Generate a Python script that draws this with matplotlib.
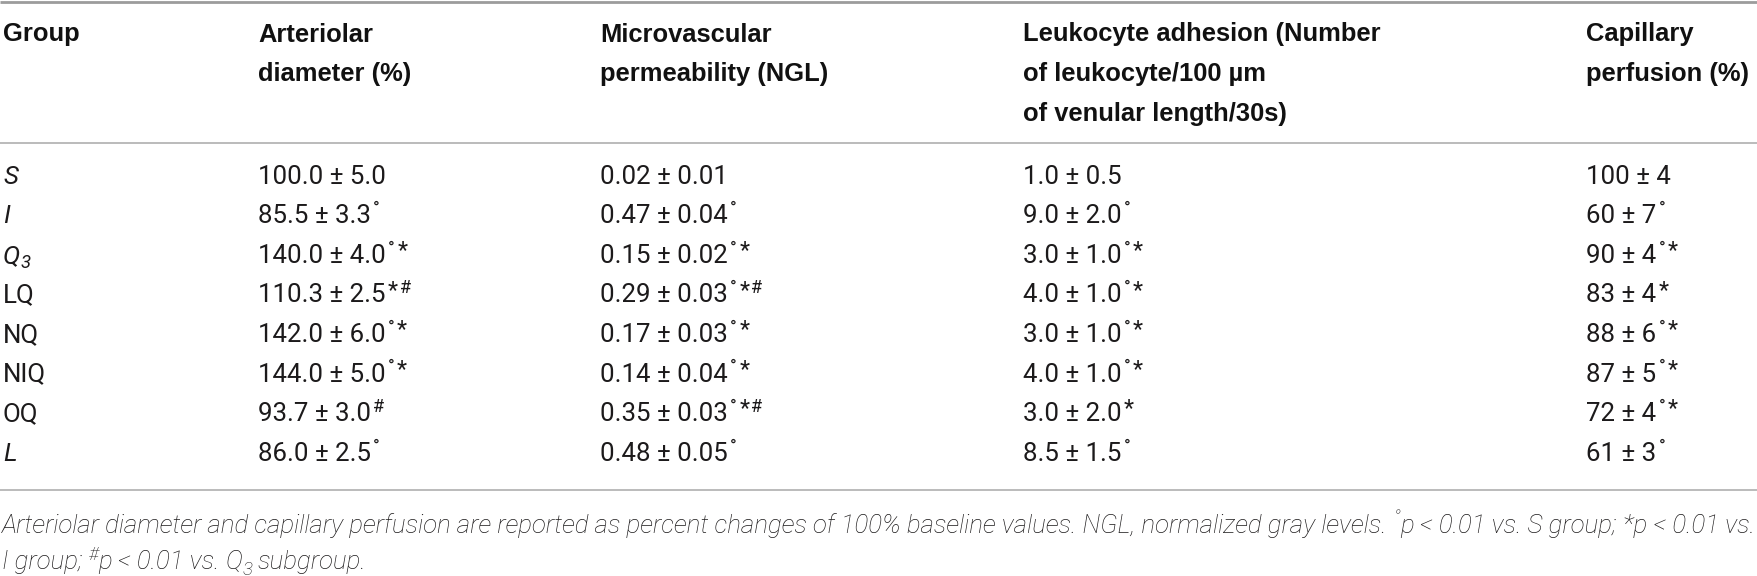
import matplotlib
matplotlib.use("Agg")
import matplotlib.pyplot as plt

# table content
groups = ["S", "I", "Q", "LQ", "NQ", "NIQ", "OQ", "L"]
group_italic = [True, True, True, False, False, False, False, True]
group_sub = ["", "", "3", "", "", "", "", ""]

art_mean = [100.0, 85.5, 140.0, 110.3, 142.0, 144.0, 93.7, 86.0]
art_sd = [5.0, 3.3, 4.0, 2.5, 6.0, 5.0, 3.0, 2.5]
art_mark = ["", "°", "°*", "*#", "°*", "°*", "#", "°"]

perm_mean = [0.02, 0.47, 0.15, 0.29, 0.17, 0.14, 0.35, 0.48]
perm_sd = [0.01, 0.04, 0.02, 0.03, 0.03, 0.04, 0.03, 0.05]
perm_mark = ["", "°", "°*", "°*#", "°*", "°*", "°*#", "°"]

leuk_mean = [1.0, 9.0, 3.0, 4.0, 3.0, 4.0, 3.0, 8.5]
leuk_sd = [0.5, 2.0, 1.0, 1.0, 1.0, 1.0, 2.0, 1.5]
leuk_mark = ["", "°", "°*", "°*", "°*", "°*", "*", "°"]

cap_mean = [100, 60, 90, 83, 88, 87, 72, 61]
cap_sd = [4, 7, 4, 4, 6, 5, 4, 3]
cap_mark = ["", "°", "°*", "*", "°*", "°*", "°*", "°"]

headers = [
    ["Group"],
    ["Arteriolar", "diameter (%)"],
    ["Microvascular", "permeability (NGL)"],
    ["Leukocyte adhesion (Number", "of leukocyte/100 µm", "of venular length/30s)"],
    ["Capillary", "perfusion (%)"],
]

W, H = 1758, 576
fig = plt.figure(figsize=(W / 100, H / 100), dpi=100)
ax = fig.add_axes([0, 0, 1, 1])
ax.set_xlim(0, W)
ax.set_ylim(H, 0)
ax.axis("off")
renderer = fig.canvas.get_renderer()

INK = "#1c1a1b"
BODY = "Roboto"
HEAD = "Liberation Sans"
col_x = [3, 258, 600, 1023, 1586]


def runs(x, y, parts, size, family=BODY, weight="normal", style="normal"):
    # draw text pieces one after another; returns the artists and end x
    arts = []
    for txt, kind in parts:
        if kind == "gap":
            x += txt * size / 16
            continue
        s, dy = size, 0
        if kind == "sup":
            s, dy = size * 0.7, -size * 0.5
        elif kind == "star":
            s, dy = size * 0.9, -size * 0.3
        elif kind == "sub":
            s, dy = size * 0.72, size * 0.3
        t = ax.text(x, y + dy, txt, fontsize=s, fontfamily=family, fontweight=weight,
                    fontstyle=style, color=INK, ha="left", va="baseline")
        x += t.get_window_extent(renderer).width
        arts.append(t)
    return arts, x


def fit(parts, target, **kw):
    # font size at which a run of text is target pixels wide
    arts, end = runs(0, 0, parts, 10, **kw)
    for a in arts:
        a.remove()
    return 10 * target / end


def mark_parts(mark):
    out = []
    for ch in mark:
        out += [(2, "gap"), (ch, "star" if ch == "*" else "sup")]
    return out


# rules
ax.plot([0, W], [1.5, 1.5], color="#9c9c9c", lw=2.0, solid_capstyle="butt")
ax.plot([0, W], [143, 143], color="#a8a8a8", lw=1.1, solid_capstyle="butt")
ax.plot([0, W], [490, 490], color="#a8a8a8", lw=1.1, solid_capstyle="butt")

# header
HS = fit([("Arteriolar", "n")], 115, family=HEAD, weight="bold")
head_base = [41.5, 81.5, 121.5]
for cx, lines in zip(col_x, headers):
    for k, line in enumerate(lines):
        ax.text(cx, head_base[k], line, fontsize=HS, fontfamily=HEAD, fontweight="bold",
                color="#111111", ha="left", va="baseline")

# body
DS = fit([("100.0 ± 5.0", "n")], 127)
row0, step = 183.5, 39.6
columns = [
    (art_mean, art_sd, art_mark, "{:.1f}"),
    (perm_mean, perm_sd, perm_mark, "{:.2f}"),
    (leuk_mean, leuk_sd, leuk_mark, "{:.1f}"),
    (cap_mean, cap_sd, cap_mark, "{:d}"),
]
for i in range(len(groups)):
    y = row0 + i * step
    parts = [(groups[i], "n")]
    if group_sub[i]:
        parts.append((group_sub[i], "sub"))
    runs(col_x[0], y, parts, DS, style="italic" if group_italic[i] else "normal")
    for j, (mean, sd, mark, fmt) in enumerate(columns):
        pr = [(fmt.format(mean[i]) + " ± " + fmt.format(sd[i]), "n")] + mark_parts(mark[i])
        runs(col_x[j + 1], y, pr, DS)

# footnote
foot1 = [
    ("Arteriolar diameter and capillary perfusion are reported as percent changes of 100% "
     "baseline values. NGL, normalized gray levels.", "n"),
    (5, "gap"), ("°", "sup"), ("p < 0.01 vs. S group;", "n"),
    (5, "gap"), ("*p < 0.01 vs.", "n"),
]
foot2 = [
    ("I group;", "n"), (5, "gap"), ("#", "sup"), ("p < 0.01 vs.", "n"), (5, "gap"),
    ("Q", "n"), ("3", "sub"), (5, "gap"), ("subgroup.", "n"),
]
FS = fit(foot1, 1752, weight="light", style="italic")
runs(2, 533, foot1, FS, weight="light", style="italic")
runs(2, 569, foot2, FS, weight="light", style="italic")

fig.savefig("out.png", dpi=100)
